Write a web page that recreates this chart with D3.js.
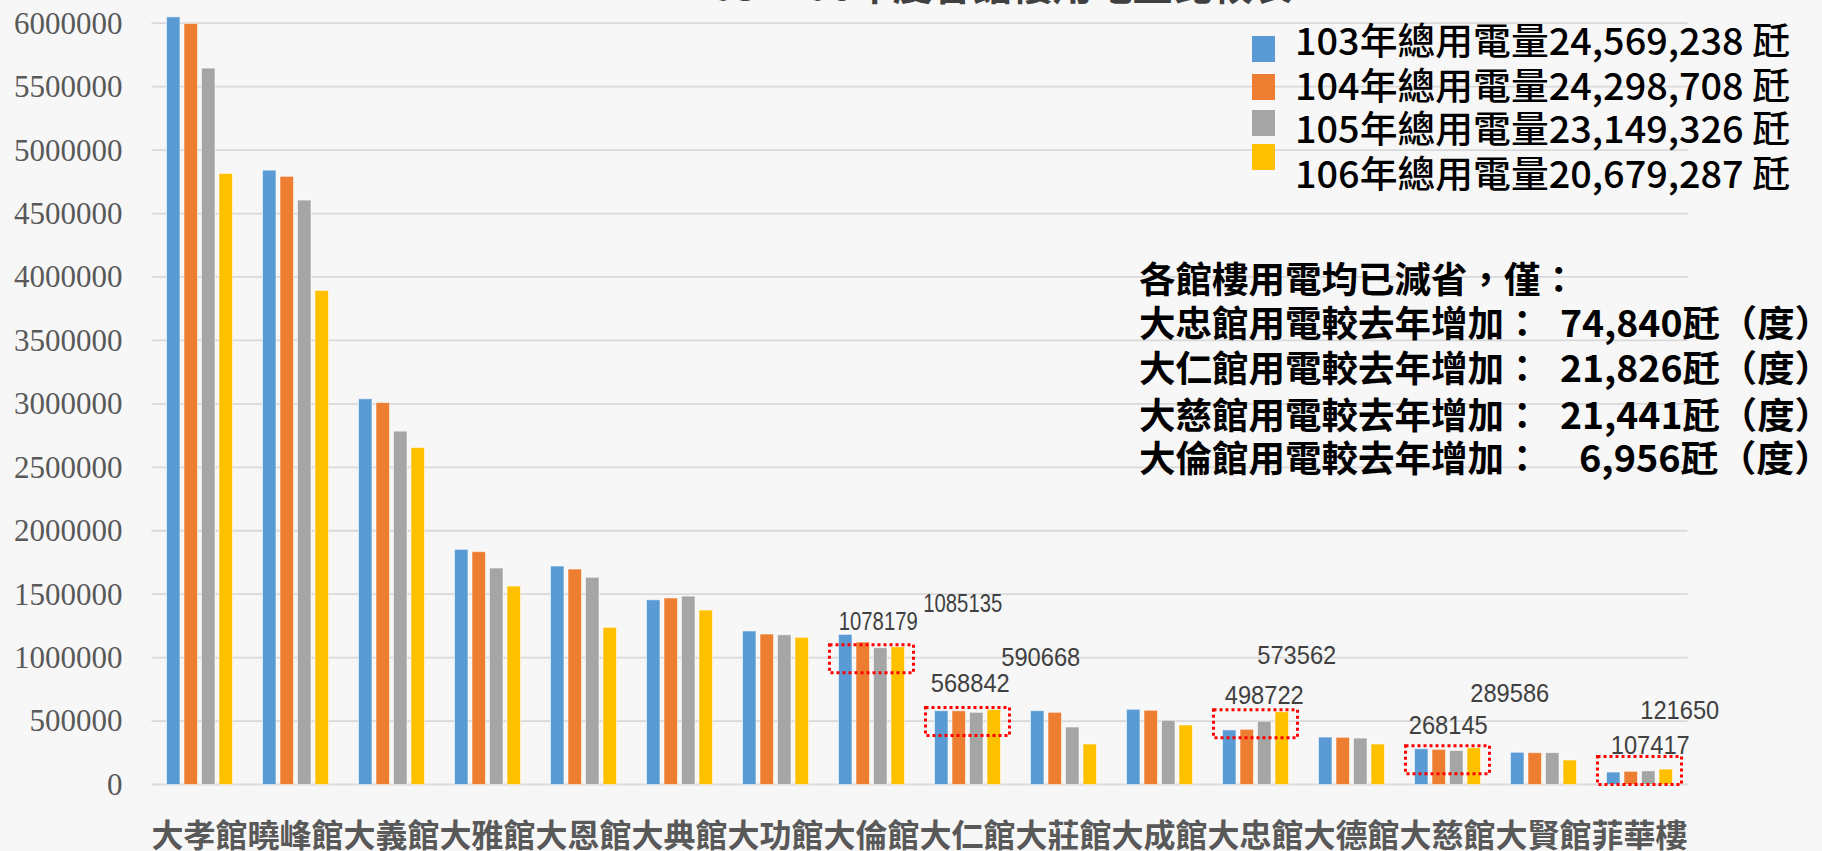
<!DOCTYPE html>
<html>
<head>
<meta charset="utf-8">
<script src="https://cdn.jsdelivr.net/npm/d3@7"></script>
<style>
  html, body { margin: 0; padding: 0; background: #f7f7f7; }
  svg { display: block; }
  text { white-space: pre; }
</style>
</head>
<body>
<svg id="chart" width="1822" height="851"></svg>
<script>
// buildings along the x axis
const halls = ["大孝館", "曉峰館", "大義館", "大雅館", "大恩館", "大典館", "大功館", "大倫館",
  "大仁館", "大莊館", "大成館", "大忠館", "大德館", "大慈館", "大賢館", "菲華樓"];

// yearly usage per building (degrees)
const y103 = [6050000, 4842000, 3040000, 1853000, 1722000, 1456000, 1210000, 1183000,
  582000, 582000, 593000, 430000, 374000, 282000, 254000, 98000];
const y104 = [5998000, 4793000, 3010000, 1835000, 1698000, 1470000, 1186000, 1123000,
  581000, 569000, 585000, 435000, 372000, 277000, 251000, 104000];
const y105 = [5646000, 4606000, 2785000, 1706000, 1633000, 1485000, 1180000, 1078179,
  568842, 453000, 506000, 498722, 366000, 268145, 251000, 107417];
const y106 = [4816000, 3894000, 2656000, 1564000, 1239000, 1375000, 1160000, 1085135,
  590668, 319000, 469000, 573562, 319000, 289586, 193000, 121650];

const seriesKeys = ["103", "104", "105", "106"];
const seriesNames = ["103年總用電量24,569,238 瓩", "104年總用電量24,298,708 瓩",
  "105年總用電量23,149,326 瓩", "106年總用電量20,679,287 瓩"];
const colors = ["#5b9bd5", "#ed7d31", "#a5a5a5", "#ffc000"];

const yTicks = [0, 500000, 1000000, 1500000, 2000000, 2500000, 3000000,
  3500000, 4000000, 4500000, 5000000, 5500000, 6000000];

// buildings whose use went up (marked with red boxes and labels)
const flagged = ["大倫館", "大仁館", "大忠館", "大慈館", "菲華樓"];

const noteLines = ["各館樓用電均已減省，僅：", "大忠館用電較去年增加：", "大仁館用電較去年增加：",
  "大慈館用電較去年增加：", "大倫館用電較去年增加："];
const noteValues = ["", "74,840瓩（度）", "21,826瓩（度）", "21,441瓩（度）", "6,956瓩（度）"];

const table = halls.map((h, i) => ({ hall: h, "103": y103[i], "104": y104[i], "105": y105[i], "106": y106[i] }));

const svg = d3.select("#chart");
const W = 1822, H = 851;
const plotLeft = 151.5, plotRight = 1687.5, plotTop = 23.2, plotBottom = 784.5;

svg.append("rect").attr("width", W).attr("height", H).attr("fill", "#f7f7f7");

const x0 = d3.scaleBand().domain(halls).range([plotLeft, plotRight]).padding(0);
const x1 = d3.scaleBand().domain(seriesKeys).range([15, 81]).paddingInner(0.229).paddingOuter(0);
const y = d3.scaleLinear().domain([0, 6000000]).range([plotBottom, plotTop]);
const color = d3.scaleOrdinal().domain(seriesKeys).range(colors);

// title (cut off at the top edge in the original)
svg.append("text")
  .attr("x", 990).attr("y", 0)
  .attr("text-anchor", "middle")
  .attr("font-family", "Noto Sans CJK TC")
  .attr("font-weight", "bold")
  .attr("font-size", 40)
  .attr("fill", "#404040")
  .text("103~106年度各館樓用電量比較表");

// gridlines
svg.append("g")
  .selectAll("line")
  .data(yTicks)
  .join("line")
  .attr("x1", plotLeft).attr("x2", plotRight)
  .attr("y1", d => y(d)).attr("y2", d => y(d))
  .attr("stroke", "#d9d9d9")
  .attr("stroke-width", 1.8);

// y axis labels
const yAxis = svg.append("g")
  .attr("transform", `translate(${plotLeft - 29},0)`)
  .call(d3.axisLeft(y).tickValues(yTicks).tickFormat(d3.format("d")).tickSize(0).tickPadding(0));
yAxis.select(".domain").remove();
yAxis.selectAll("text")
  .attr("font-family", "Liberation Serif")
  .attr("font-size", 31)
  .attr("fill", "#595959");

// bars
svg.append("g")
  .selectAll("g")
  .data(table)
  .join("g")
  .attr("transform", d => `translate(${x0(d.hall)},0)`)
  .selectAll("rect")
  .data(d => seriesKeys.map(k => ({ key: k, value: d[k] })))
  .join("rect")
  .attr("x", d => x1(d.key))
  .attr("width", x1.bandwidth())
  .attr("y", d => y(d.value))
  .attr("height", d => y(0) - y(d.value))
  .attr("fill", d => color(d.key))
  .attr("stroke", "#ffffff")
  .attr("stroke-opacity", 0.55)
  .attr("stroke-width", 1);

// x axis labels
const xAxis = svg.append("g")
  .attr("transform", `translate(0,${plotBottom})`)
  .call(d3.axisBottom(x0).tickSize(0).tickPadding(0));
xAxis.select(".domain").remove();
xAxis.selectAll("text")
  .attr("y", 52)
  .attr("dy", "0.32em")
  .attr("font-family", "Noto Sans CJK TC")
  .attr("font-weight", "bold")
  .attr("font-size", 32)
  .attr("fill", "#595959");

// red dotted boxes round the buildings that went up
const boxes = svg.append("g");
flagged.forEach(h => {
  const i = halls.indexOf(h);
  const hi = Math.max(y105[i], y106[i]);
  const ty = Math.min(y(hi) - 2, y(0) - 28);
  boxes.append("rect")
    .attr("x", x0(h) + 6)
    .attr("y", ty)
    .attr("width", 84)
    .attr("height", 28)
    .attr("fill", "none")
    .attr("stroke", "#ff0000")
    .attr("stroke-width", 3)
    .attr("stroke-dasharray", "3 3");
});

// data labels for 105 / 106 values, nudged as in the original
const nudge105 = [[-2, -26], [-6, -29], [0, -26], [-8, -25], [2, -26]];
const nudge106 = [[65, -44], [47, -52], [15, -56], [36, -55], [14, -59]];
const labels = svg.append("g")
  .attr("font-family", "Liberation Sans Narrow, Liberation Sans")
  .attr("font-size", 25)
  .attr("fill", "#404040")
  .attr("text-anchor", "middle");
flagged.forEach((h, j) => {
  const i = halls.indexOf(h);
  [["105", y105[i], nudge105[j]], ["106", y106[i], nudge106[j]]].forEach(([k, v, n]) => {
    labels.append("text")
      .attr("x", x0(h) + x1(k) + x1.bandwidth() / 2 + n[0])
      .attr("y", y(v) + n[1])
      .attr("dy", "0.35em")
      .attr("textLength", 79)
      .attr("lengthAdjust", "spacingAndGlyphs")
      .text(v);
  });
});

// legend
const legendRows = [36, 74, 110, 144];
const legendText = [39, 84, 127, 172];
const legend = svg.append("g");
seriesKeys.forEach((k, i) => {
  legend.append("rect")
    .attr("x", 1252).attr("y", legendRows[i])
    .attr("width", 23).attr("height", 26)
    .attr("fill", color(k));
  legend.append("text")
    .attr("x", 1295).attr("y", legendText[i])
    .attr("dominant-baseline", "central")
    .attr("font-family", "Noto Sans CJK TC")
    .attr("font-weight", 500)
    .attr("font-size", 37)
    .attr("fill", "#000")
    .attr("textLength", 495)
    .attr("lengthAdjust", "spacingAndGlyphs")
    .text(seriesNames[i]);
});

// note block
const noteY = [277.5, 321.7, 366.7, 413.3, 456.7];
const note = svg.append("g")
  .attr("font-family", "Noto Sans CJK TC")
  .attr("font-weight", "bold")
  .attr("font-size", 36.5)
  .attr("fill", "#000");
noteLines.forEach((t, i) => {
  note.append("text")
    .attr("x", 1139).attr("y", noteY[i])
    .attr("dominant-baseline", "central")
    .text(t);
  if (noteValues[i]) {
    const x = i === 4 ? 1579 : 1560;
    note.append("text")
      .attr("x", x).attr("y", noteY[i])
      .attr("dominant-baseline", "central")
      .attr("textLength", 1832 - x)
      .attr("lengthAdjust", "spacingAndGlyphs")
      .text(noteValues[i]);
  }
});
</script>
</body>
</html>
